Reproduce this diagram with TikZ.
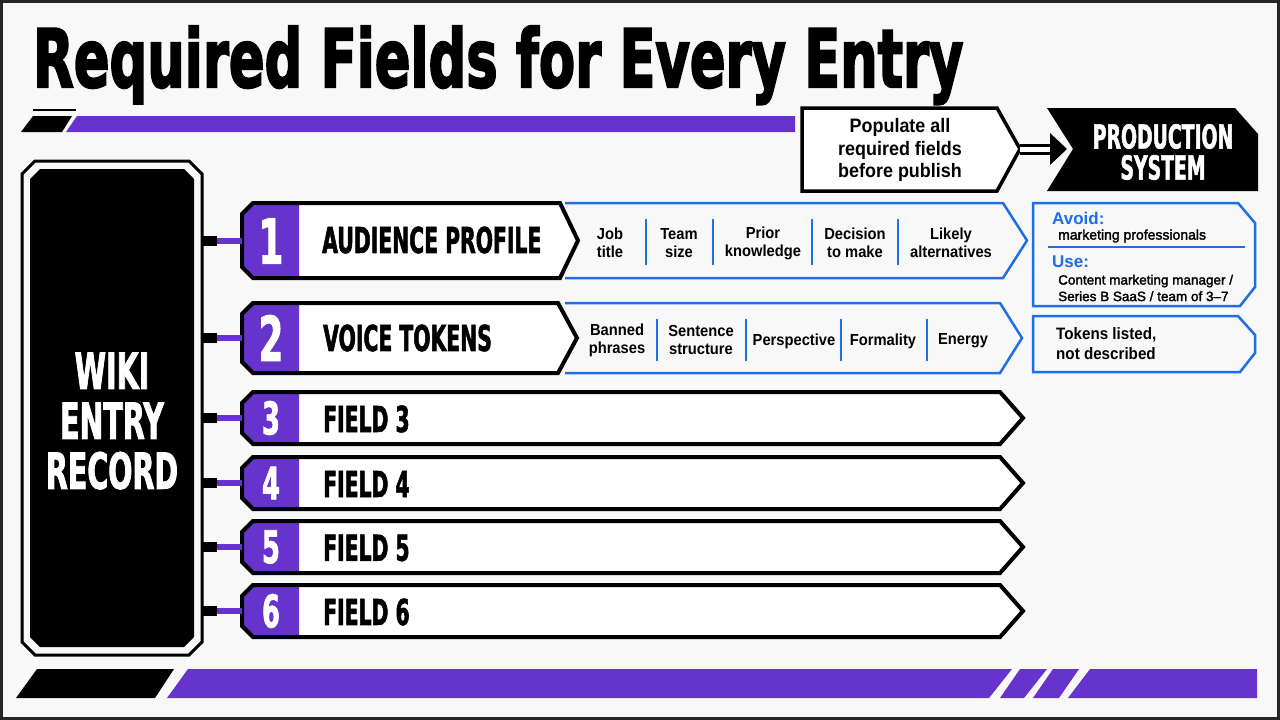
\documentclass[tikz,border=0pt]{standalone}
\usepackage{fontspec}
\usepackage{graphicx}
\setmainfont{Liberation Sans}
\newfontfamily\cf{DejaVu Sans Bold}[FakeStretch=0.57,FakeBold=1.5]
\newfontfamily\tf{DejaVu Sans Bold}[FakeBold=3]
\newfontfamily\mf{Liberation Sans Bold}[FakeStretch=0.92]
\newfontfamily\rf{Liberation Sans}[FakeBold=2]
\newfontfamily\bfnt{Liberation Sans Bold}
\definecolor{vio}{RGB}{102,52,204}
\definecolor{blu}{RGB}{30,110,232}
\definecolor{bg}{RGB}{248,248,248}
\tikzset{
  rowline/.style={draw=black, line width=4pt, line join=miter},
  blueshape/.style={draw=blu, line width=2.5pt, line join=miter},
  bdiv/.style={draw=blu, line width=2pt},
  bignum/.style={text=white, inner sep=0, font=\cf\fontsize{62}{62}\selectfont},
  smallnum/.style={text=white, inner sep=0, font=\cf\fontsize{45}{45}\selectfont},
  rowlabel/.style={anchor=west, inner sep=0, font=\cf\fontsize{35.7}{36}\selectfont},
  cell/.style={align=center, inner sep=0, font=\mf\fontsize{16}{18}\selectfont},
  bluehead/.style={anchor=west, inner sep=0, text=blu, font=\bfnt\fontsize{17}{20}\selectfont},
  note/.style={anchor=west, inner sep=0, align=left},
}
\newcommand\fieldrow[5]{%
  \pgfmathsetmacro\rmid{(#2+#3)/2}
  \fill[white] (253,#2) -- (#4,#2) -- (#5,\rmid) -- (#4,#3) -- (253,#3) -- (242,#3-11) -- (242,#2+11) -- cycle;
  \fill[vio] (253,#2) -- (299,#2) -- (299,#3) -- (253,#3) -- (242,#3-11) -- (242,#2+11) -- cycle;
  \draw[rowline] (253,#2) -- (#4,#2) -- (#5,\rmid) -- (#4,#3) -- (253,#3) -- (242,#3-11) -- (242,#2+11) -- cycle;
  \coordinate (#1) at (242,\rmid);
  \draw[line width=10pt] (wiki.east |- #1) -- ++(15,0) coordinate (#1s);
  \draw[vio, line width=6pt] (#1s) -- (#1);
}
\begin{document}
\begin{tikzpicture}[x=1pt,y=-1pt]
\useasboundingbox (0,0) rectangle (1280,720);
\fill[bg] (0,0) rectangle (1280,720);
\draw[line width=3pt, draw=black!85] (1.5,1.5) rectangle (1278.5,718.5);

% title
\node[anchor=base west, inner sep=0] (title) at (33,87) {\resizebox{930pt}{61pt}{\tf Required Fields for Every Entry}};

% top accents
\draw[line width=2.5pt] (33,110) -- (76,110);
\fill (21,132) -- (62,132) -- (72,116) -- (33,116) -- cycle;
\fill[vio] (66,132) -- (795,132) -- (795,116) -- (77,116) -- cycle;

% populate box
\draw[fill=white, line width=3.5pt, line join=miter] (802,108) -- (997,108) -- (1020,149) -- (997,191) -- (802,191) -- cycle;
\node (pop) at (900,150) [align=center, inner sep=0, font=\mf\fontsize{19.5}{22.5}\selectfont] {Populate all\\required fields\\before publish};
\coordinate (poptip) at (1020,149);

% production system
\fill (1047,108) -- (1235,108) -- (1258,134) -- (1258,191) -- (1047,191) -- (1073,149) -- cycle;
\node (prod) at (1163,152) [text=white, align=center, inner sep=0, font=\cf\fontsize{33}{31}\selectfont] {PRODUCTION\\SYSTEM};
\coordinate (prodin) at (1067,149);
\draw[line width=3pt, double=white, double distance=5pt] (poptip) -- (1052,149);
\fill (1050,133) -- (prodin) -- (1050,165) -- cycle;

% wiki box
\node (wiki) at (112,408) [minimum width=180pt, minimum height=494pt, inner sep=0] {};
\draw[line width=3pt, line join=miter] (35,161) -- (189,161) -- (202,174) -- (202,642) -- (189,655) -- (35,655) -- (22,642) -- (22,174) -- cycle;
\fill (40,169) -- (184,169) -- (194,179) -- (194,637) -- (184,647) -- (40,647) -- (30,637) -- (30,179) -- cycle;
\node (wikitxt) at (112,421) [text=white, align=center, inner sep=0, font=\cf\fontsize{50}{50}\selectfont] {WIKI\\ENTRY\\RECORD};

% rows
\fieldrow{r1}{203}{278}{560}{578}
\fieldrow{r2}{303}{373}{558}{577}
\fieldrow{r3}{392}{444}{1000}{1023}
\fieldrow{r4}{457}{509}{1000}{1023}
\fieldrow{r5}{521}{573}{1000}{1023}
\fieldrow{r6}{585}{637}{1000}{1023}

\node (n1) at (271,241) [bignum] {1};
\node (n2) at (271,338) [bignum] {2};
\node (n3) at (271,418) [smallnum] {3};
\node (n4) at (271,483) [smallnum] {4};
\node (n5) at (271,547) [smallnum] {5};
\node (n6) at (271,611) [smallnum] {6};

\node (l1) at (322,240) [rowlabel] {AUDIENCE PROFILE};
\node (l2) at (323,338) [rowlabel] {VOICE TOKENS};
\node (l3) at (323,419) [rowlabel] {FIELD 3};
\node (l4) at (323,484) [rowlabel] {FIELD 4};
\node (l5) at (323,548) [rowlabel] {FIELD 5};
\node (l6) at (323,612) [rowlabel] {FIELD 6};

% blue strips
\draw[blueshape] (565,203) -- (1003,203) -- (1027,240.5) -- (1003,278) -- (565,278);
\draw[blueshape] (565,303) -- (1000,303) -- (1022,338) -- (1000,373) -- (565,373);

\foreach \x in {646,713,812,898} \draw[bdiv] (\x,219) -- (\x,265);
\foreach \x in {657,746,841,927} \draw[bdiv] (\x,319) -- (\x,361);

\node (c11) at (610,243) [cell] {Job\\title};
\node (c12) at (679,243) [cell] {Team\\size};
\node (c13) at (763,243) [cell] {Prior\\knowledge};
\node (c14) at (855,243) [cell] {Decision\\to make};
\node (c15) at (951,243) [cell] {Likely\\alternatives};

\node (c21) at (617,340) [cell] {Banned\\phrases};
\node (c22) at (701,340) [cell] {Sentence\\structure};
\node (c23) at (794,341) [cell] {Perspective};
\node (c24) at (883,341) [cell] {Formality};
\node (c25) at (963,341) [cell] {Energy};

% right notes
\draw[blueshape] (1033,203) -- (1238,203) -- (1255,223) -- (1255,287) -- (1240,306) -- (1033,306) -- cycle;
\draw[blueshape] (1033,316) -- (1238,316) -- (1255,335) -- (1255,353) -- (1240,372) -- (1033,372) -- cycle;
\node (avoid) at (1052,218) [bluehead] {Avoid:};
\node (avoidtxt) at (1058,236) [note, font=\rf\fontsize{14}{17}\selectfont] {marketing professionals};
\draw[blu, line width=1.5pt] (1048,247) -- (1245,247);
\node (use) at (1052,262) [bluehead] {Use:};
\node (usetxt) at (1058,288) [note, font=\rf\fontsize{13.5}{16.5}\selectfont] {Content marketing manager /\\Series B SaaS / team of 3–7};
\node (tokens) at (1056,344) [note, font=\mf\fontsize{16.5}{20}\selectfont] {Tokens listed,\\not described};

% bottom band
\fill (16,698) -- (155,698) -- (174,669) -- (37,669) -- cycle;
\fill[vio] (167,698) -- (989,698) -- (1012,669) -- (188,669) -- cycle;
\fill[vio] (1000,698) -- (1024,698) -- (1047,669) -- (1020,669) -- cycle;
\fill[vio] (1033,698) -- (1059,698) -- (1079,669) -- (1053,669) -- cycle;
\fill[vio] (1068,698) -- (1257,698) -- (1257,669) -- (1090,669) -- cycle;
\end{tikzpicture}
\end{document}
